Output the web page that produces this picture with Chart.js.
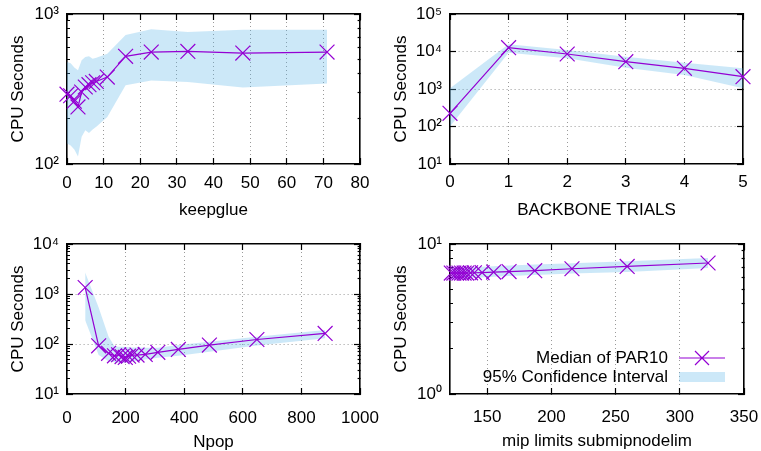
<!DOCTYPE html>
<html>
<head>
<meta charset="utf-8">
<script src="https://cdn.jsdelivr.net/npm/chart.js@4"></script>
<style>
body { margin: 0; background: #fff; }
.panel { position: absolute; }
</style>
</head>
<body>
<div class="panel" style="left:0;top:0"><canvas id="keepglue" width="380" height="225"></canvas></div>
<div class="panel" style="left:380px;top:0"><canvas id="backbone" width="381" height="225"></canvas></div>
<div class="panel" style="left:0;top:225px"><canvas id="npop" width="380" height="226"></canvas></div>
<div class="panel" style="left:380px;top:225px"><canvas id="mip" width="381" height="226"></canvas></div>
<script>
// keepglue
const keepglueValues = [0, 1, 2, 3, 4, 5, 6, 7, 8, 11, 16, 23, 33, 48, 71];
const keepglueMedian = [292, 285, 262, 240, 302, 326, 338, 348, 355, 380, 522, 557, 563, 549, 557];
const keepglueLow = [137, 133, 125, 112, 152, 168, 161, 170, 177, 206, 335, 360, 352, 323, 344];
const keepglueHigh = [478, 470, 440, 421, 491, 517, 523, 504, 510, 544, 725, 790, 760, 785, 785];

// BACKBONE TRIALS
const backboneValues = [0, 1, 2, 3, 4, 5];
const backboneMedian = [224, 12650, 8580, 5350, 3560, 2130];
const backboneLow = [100, 9290, 6580, 3700, 2360, 1040];
const backboneHigh = [1040, 15500, 10960, 7270, 5030, 3560];

// Npop
const npopValues = [62, 108, 142, 162, 176, 188, 199, 210, 222, 239, 267, 310, 380, 486, 648, 881];
const npopMedian = [1350, 92, 65, 58, 61, 56, 54, 57, 60, 60, 62, 68, 78, 95, 123, 163];
const npopLow = [300, 60, 45, 43, 42, 42, 42, 43, 44, 46, 49, 53, 58, 70, 93, 130];
const npopHigh = [2700, 540, 140, 90, 88, 88, 87, 86, 85, 85, 84, 84, 95, 111, 140, 190];

// mip limits submipnodelim
const mipValues = [122, 124, 126, 128, 130, 132, 134, 137, 140, 146, 155, 167, 187, 216, 259, 322];
const mipMedian = [6.4, 6.4, 6.4, 6.4, 6.4, 6.4, 6.4, 6.42, 6.43, 6.45, 6.5, 6.55, 6.64, 6.84, 7.09, 7.47];
const mipLow = [5.85, 5.86, 5.87, 5.88, 5.89, 5.9, 5.91, 5.93, 5.95, 5.98, 6.05, 6.12, 6.22, 6.35, 6.5, 6.92];
const mipHigh = [7.1, 7.0, 7.0, 7.0, 7.0, 7.0, 7.0, 7.01, 7.03, 7.06, 7.1, 7.2, 7.3, 7.45, 7.66, 8.06];

// tick labels
const keepglueTicks = [0, 10, 20, 30, 40, 50, 60, 70, 80];
const backboneTicks = [0, 1, 2, 3, 4, 5];
const npopTicks = [0, 200, 400, 600, 800, 1000];
const mipTicks = [150, 200, 250, 300, 350];
const keepglueDecades = [100, 1000];
const backboneDecades = [10, 100, 1000, 10000, 100000];
const npopDecades = [10, 100, 1000, 10000];
const mipDecades = [1, 10];

const PURPLE = "#9400d3";
const BAND = "rgba(86, 180, 233, 0.3)";
const GRID = "#9a9a9a";
const FONT = { family: "'Liberation Sans', Arial, sans-serif", size: 17, lineHeight: 1 };
const SUP = { "0": "\u2070", "1": "\u00b9", "2": "\u00b2", "3": "\u00b3", "4": "\u2074", "5": "\u2075", "-": "\u207b" };

function powerLabel(value) {
    const exp = Math.round(Math.log10(value));
    if (Math.abs(Math.log10(value) - exp) > 1e-6) return "";
    return "10" + String(exp).split("").map(c => SUP[c]).join("");
}

function logTicks(decades, withMinor) {
    const ticks = [];
    decades.forEach((d, i) => {
        ticks.push({ value: d, major: true });
        if (withMinor && i < decades.length - 1) {
            for (let k = 2; k < 10; k++) ticks.push({ value: d * k, major: false });
        }
    });
    return ticks;
}

function isDecade(v) {
    return Math.abs(Math.log10(v) - Math.round(Math.log10(v))) < 1e-6;
}

// minor ticks are drawn half length: dash away the inner part
function tickDash(fromInside) {
    return (ctx) => {
        if (!ctx.tick || ctx.tick.major !== false) return [];
        return fromInside ? [0, 3, 3, 100] : [3, 100];
    };
}

// keep the layout padding in charge of the plot box
function noOverhang(s) {
    s.paddingLeft = 0;
    s.paddingRight = 0;
    s.paddingTop = 0;
    s.paddingBottom = 0;
}

const insideLegend = {
    id: "insideLegend",
    afterDatasetsDraw(chart) {
        if (!chart.options.plugins.insideLegend.show) return;
        const { ctx, chartArea: a } = chart;
        const lineY = a.bottom - 36;
        const boxY = a.bottom - 17;
        ctx.save();
        ctx.font = "17px 'Liberation Sans', Arial, sans-serif";
        ctx.fillStyle = "#000";
        ctx.textAlign = "right";
        ctx.textBaseline = "middle";
        ctx.fillText(chart.data.datasets[0].label, a.right - 76, lineY);
        ctx.fillText(chart.data.datasets[2].label, a.right - 76, boxY);
        ctx.strokeStyle = PURPLE;
        ctx.lineWidth = 1.2;
        ctx.beginPath();
        ctx.moveTo(a.right - 65, lineY);
        ctx.lineTo(a.right - 19, lineY);
        const cx = a.right - 42, r = 7;
        ctx.moveTo(cx - r, lineY - r);
        ctx.lineTo(cx + r, lineY + r);
        ctx.moveTo(cx - r, lineY + r);
        ctx.lineTo(cx + r, lineY - r);
        ctx.stroke();
        ctx.fillStyle = BAND;
        ctx.fillRect(a.right - 65, boxY - 5, 46, 10);
        ctx.restore();
    }
};

function drawPanel(id, p) {
    const canvas = document.getElementById(id);
    const points = (ys) => p.x.map((x, i) => ({ x: x, y: ys[i] }));
    const xInterior = (v) => v > p.xMin && v < p.xMax;
    const yInterior = (v) => v > p.decades[0] && v < p.decades[p.decades.length - 1];

    const frame = { display: true, color: "#000", width: 1.6, dash: [1, 3] };
    const xBase = {
        type: "linear", min: p.xMin, max: p.xMax,
        afterBuildTicks: (s) => { s.ticks = p.xTicks.map(v => ({ value: v })); },
    };
    const yBase = {
        type: "logarithmic", min: p.decades[0], max: p.decades[p.decades.length - 1],
        afterBuildTicks: (s) => { s.ticks = logTicks(p.decades, p.minor); },
    };

    new Chart(canvas, {
        type: "line",
        data: {
            datasets: [
                {
                    label: "Median of PAR10", data: points(p.median),
                    borderColor: PURPLE, borderWidth: 1.2, tension: 0, fill: false,
                    pointStyle: "crossRot", pointRadius: 10.5, pointBorderColor: PURPLE,
                    pointBorderWidth: 1.2, clip: false,
                },
                { label: "low", data: points(p.low), borderWidth: 0, pointRadius: 0, fill: false },
                {
                    label: "95% Confidence Interval", data: points(p.high),
                    borderWidth: 0, pointRadius: 0, fill: "-1", backgroundColor: BAND,
                },
            ]
        },
        options: {
            responsive: false,
            animation: false,
            layout: { autoPadding: false, padding: { left: 0, top: p.top, right: p.right, bottom: 0 } },
            plugins: { legend: { display: false }, tooltip: { enabled: false }, insideLegend: { show: !!p.legend } },
            scales: {
                x: Object.assign({}, xBase, {
                    position: "bottom",
                    afterFit: (s) => { s.height = p.xAxisHeight; noOverhang(s); },
                    grid: {
                        color: (ctx) => ctx.tick && xInterior(ctx.tick.value) ? GRID : "rgba(0,0,0,0)",
                        lineWidth: 1, tickLength: -6, tickColor: "#000", tickWidth: 1.2,
                    },
                    border: frame,
                    ticks: { autoSkip: false, maxRotation: 0, padding: p.xTickPad, color: "#000", font: FONT, callback: (v) => String(v) },
                    title: { display: true, text: p.xTitle, color: "#000", font: FONT, padding: { top: 0, bottom: p.xTitlePad } },
                }),
                x2: Object.assign({}, xBase, {
                    position: "top",
                    afterFit: (s) => { s.height = 0; noOverhang(s); },
                    grid: { drawOnChartArea: false, tickLength: -6, tickColor: "#000", tickWidth: 1.2 },
                    border: frame,
                    ticks: { display: false },
                }),
                y: Object.assign({}, yBase, {
                    position: "left",
                    afterFit: (s) => { s.width = p.yAxisWidth; noOverhang(s); },
                    grid: {
                        color: (ctx) => ctx.tick && isDecade(ctx.tick.value) && yInterior(ctx.tick.value) ? GRID : "rgba(0,0,0,0)",
                        lineWidth: 1, tickLength: -6, tickColor: "#000", tickWidth: 1.2,
                        tickBorderDash: tickDash(true),
                    },
                    border: frame,
                    ticks: { autoSkip: false, padding: 14, color: "#000", font: FONT, callback: powerLabel },
                    title: { display: true, text: "CPU Seconds", color: "#000", font: FONT, padding: { top: p.yTitlePad, bottom: 0 } },
                }),
                y2: Object.assign({}, yBase, {
                    position: "right",
                    afterFit: (s) => { s.width = 0; noOverhang(s); },
                    grid: {
                        drawOnChartArea: false, tickLength: -6, tickColor: "#000", tickWidth: 1.2,
                        tickBorderDash: tickDash(false),
                    },
                    border: frame,
                    ticks: { display: false },
                }),
            }
        },
        plugins: [insideLegend]
    });
}

drawPanel("keepglue", {
    x: keepglueValues, median: keepglueMedian, low: keepglueLow, high: keepglueHigh,
    xMin: 0, xMax: 80, xTicks: keepglueTicks, decades: keepglueDecades, minor: true,
    xTitle: "keepglue", top: 14, right: 20, xAxisHeight: 61, yAxisWidth: 67,
    xTickPad: 17, xTitlePad: 6, yTitlePad: 10,
});
drawPanel("backbone", {
    x: backboneValues, median: backboneMedian, low: backboneLow, high: backboneHigh,
    xMin: 0, xMax: 5, xTicks: backboneTicks, decades: backboneDecades, minor: false,
    xTitle: "BACKBONE TRIALS", top: 14, right: 18, xAxisHeight: 61, yAxisWidth: 70,
    xTickPad: 16, xTitlePad: 6, yTitlePad: 13,
});
drawPanel("npop", {
    x: npopValues, median: npopMedian, low: npopLow, high: npopHigh,
    xMin: 0, xMax: 1000, xTicks: npopTicks, decades: npopDecades, minor: true,
    xTitle: "Npop", top: 19, right: 20, xAxisHeight: 57, yAxisWidth: 67,
    xTickPad: 22, xTitlePad: 0, yTitlePad: 10,
});
drawPanel("mip", {
    x: mipValues, median: mipMedian, low: mipLow, high: mipHigh,
    xMin: 121, xMax: 350, xTicks: mipTicks, decades: mipDecades, minor: true,
    xTitle: "mip limits submipnodelim", top: 19, right: 17, xAxisHeight: 57, yAxisWidth: 70,
    xTickPad: 21, xTitlePad: 1, yTitlePad: 13,
    legend: true,
});
</script>
</body>
</html>
